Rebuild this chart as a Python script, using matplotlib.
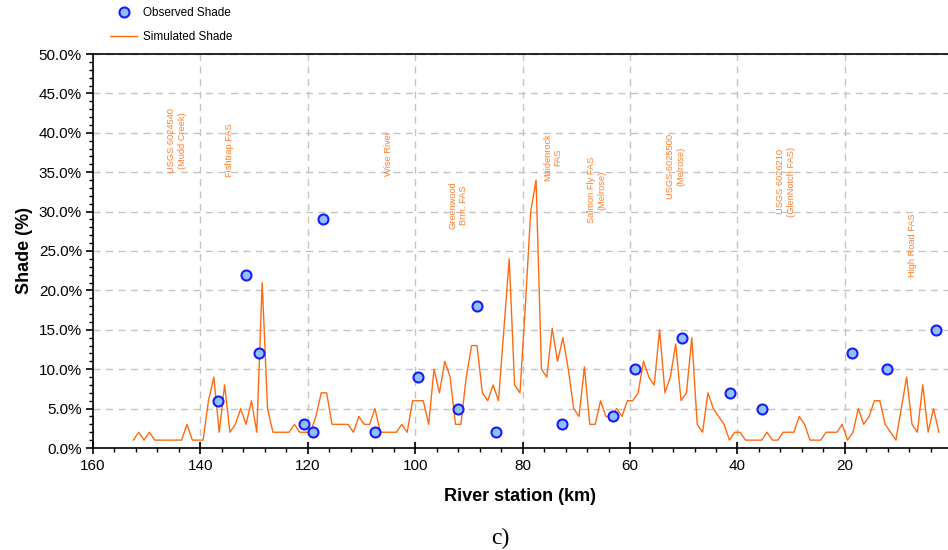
import matplotlib
matplotlib.use("Agg")
import matplotlib.pyplot as plt
from matplotlib.ticker import MultipleLocator, FuncFormatter
from matplotlib.lines import Line2D

# ---------------- data ----------------
sim_km = [152.5, 151.5, 150.5, 149.5, 148.5, 147.5, 146.5, 145.5, 144.5, 143.5,
          142.5, 141.5, 140.5, 139.5, 138.5, 137.5, 136.5, 135.5, 134.5, 133.5,
          132.5, 131.5, 130.5, 129.5, 128.5, 127.5, 126.5, 125.5, 124.5, 123.5,
          122.5, 121.5, 120.5, 119.5, 118.5, 117.5, 116.5, 115.5, 114.5, 113.5,
          112.5, 111.5, 110.5, 109.5, 108.5, 107.5, 106.5, 105.5, 104.5, 103.5,
          102.5, 101.5, 100.5, 99.5, 98.5, 97.5, 96.5, 95.5, 94.5, 93.5,
          92.5, 91.5, 90.5, 89.5, 88.5, 87.5, 86.5, 85.5, 84.5, 83.5,
          82.5, 81.5, 80.5, 79.5, 78.5, 77.5, 76.5, 75.5, 74.5, 73.5,
          72.5, 71.5, 70.5, 69.5, 68.5, 67.5, 66.5, 65.5, 64.5, 63.5,
          62.5, 61.5, 60.5, 59.5, 58.5, 57.5, 56.5, 55.5, 54.5, 53.5,
          52.5, 51.5, 50.5, 49.5, 48.5, 47.5, 46.5, 45.5, 44.5, 43.5,
          42.5, 41.5, 40.5, 39.5, 38.5, 37.5, 36.5, 35.5, 34.5, 33.5,
          32.5, 31.5, 30.5, 29.5, 28.5, 27.5, 26.5, 25.5, 24.5, 23.5,
          22.5, 21.5, 20.5, 19.5, 18.5, 17.5, 16.5, 15.5, 14.5, 13.5,
          12.5, 11.5, 10.5, 9.5, 8.5, 7.5, 6.5, 5.5, 4.5, 3.5, 2.5]
sim_shade = [1, 2, 1, 2, 1, 1, 1, 1, 1, 1,
             3, 1, 1, 1, 6, 9, 2, 8, 2, 3,
             5, 3, 6, 2, 21, 5, 2, 2, 2, 2,
             3, 2, 2, 2, 4, 7, 7, 3, 3, 3,
             3, 2, 4, 3, 3, 5, 2, 2, 2, 2,
             3, 2, 6, 6, 6, 3, 10, 7, 11, 9,
             3, 3, 9, 13, 13, 7, 6, 8, 6, 15,
             24, 8, 7, 18, 30, 34, 10, 9, 15.2, 11,
             14, 10, 5, 4, 10.3, 3, 3, 6, 4, 4,
             5, 4, 6, 6, 7, 11, 9, 8, 15, 7,
             9, 13.2, 6, 7, 14, 3, 2, 7, 5, 4,
             3, 1, 2, 2, 1, 1, 1, 1, 2, 1,
             1, 2, 2, 2, 4, 3, 1, 1, 1, 2,
             2, 2, 3, 1, 2, 5, 3, 4, 6, 6,
             3, 2, 1, 5, 9, 3, 2, 8, 2, 5, 2]

obs_km = [136.8, 131.5, 129.0, 120.7, 119.0, 117.1, 107.4, 99.4, 92.0, 88.5,
          85.0, 72.6, 63.1, 59.0, 50.4, 41.3, 35.5, 18.7, 12.2, 3.1]
obs_shade = [6, 22, 12, 3, 2, 29, 2, 9, 5, 18,
             2, 3, 4, 10, 14, 7, 5, 12, 10, 15]

site_labels = ["USGS 6024540\n(Mudd Creek)", "Fishtrap FAS", "Wise River",
               "Greenwood\nBrm. FAS", "Maidenrock\nFAS", "Salmon Fly FAS\n(Melrose)",
               "USGS 6025500\n(Melrose)", "USGS 6026210\n(GlenNotch FAS)", "High Road FAS"]
site_km = [144.4, 134.6, 105.0, 92.0, 74.4, 66.2, 51.5, 31.0, 7.4]
site_y = [39.0, 37.8, 37.4, 30.8, 36.9, 32.7, 35.7, 33.8, 25.8]

# ---------------- figure ----------------
plt.rcParams['font.family'] = ['Liberation Sans', 'DejaVu Sans']

fig = plt.figure(figsize=(9.48, 5.5), dpi=100)
ax = fig.add_axes([93 / 948, 102 / 550, 855 / 948, 394 / 550])

orange = '#FF6A10'
ax.plot(sim_km, sim_shade, color=orange, lw=1.0, zorder=3)
ax.plot(obs_km, obs_shade, linestyle='none', marker='o', markersize=7.2,
        markerfacecolor='#8FC3FF', markeredgecolor='#1A1AFF', markeredgewidth=1.5, zorder=4)

for lab, xk, yk in zip(site_labels, site_km, site_y):
    ax.text(xk, yk, lab, rotation=90, ha='center', va='center', multialignment='center',
            fontsize=6.7, color='#FF7F2A', linespacing=1.25, zorder=2)

ax.set_xlim(160, 0.8)
ax.set_ylim(0, 50)

ax.xaxis.set_major_locator(MultipleLocator(20))
ax.xaxis.set_minor_locator(MultipleLocator(4))
ax.yaxis.set_major_locator(MultipleLocator(5))
ax.yaxis.set_minor_locator(MultipleLocator(1))
ax.yaxis.set_major_formatter(FuncFormatter(lambda v, p: f"{v:.1f}%"))
ax.xaxis.set_major_formatter(FuncFormatter(lambda v, p: f"{v:.0f}"))

ax.tick_params(axis='x', which='major', direction='inout', length=8, width=1.2,
               labelsize=11, pad=4)
ax.tick_params(axis='x', which='minor', direction='out', length=3, width=1)
ax.tick_params(axis='y', which='major', direction='out', length=5, width=1.2,
               labelsize=11, pad=3)
ax.tick_params(axis='y', which='minor', direction='out', length=3, width=1)

ax.grid(True, which='major', color='#C4C4C4', linestyle=(0, (5, 4)), lw=1.0, zorder=1)
ax.set_axisbelow(True)

for s in ['left', 'bottom', 'top']:
    ax.spines[s].set_color('black')
    ax.spines[s].set_linewidth(1.2)
ax.spines['right'].set_visible(False)

ax.set_xlabel('River station (km)', fontsize=13, fontweight='bold', labelpad=11)
ax.set_ylabel('Shade (%)', fontsize=13, fontweight='bold', labelpad=4)

handles = [Line2D([], [], linestyle='none', marker='o', markersize=7.2,
                  markerfacecolor='#8FC3FF', markeredgecolor='#1A1AFF', markeredgewidth=1.5),
           Line2D([], [], color=orange, lw=1.0)]
fig.legend(handles, ['Observed Shade', 'Simulated Shade'], loc='upper left',
           bbox_to_anchor=(110 / 948, 1 - 7 / 550), frameon=False, fontsize=8.5,
           borderpad=0, borderaxespad=0, handlelength=2.3, handletextpad=0.5,
           labelspacing=1.0)

fig.text(500 / 948, 1 - 538 / 550, 'c)', ha='center', va='center', fontsize=17,
         family=['Liberation Serif', 'DejaVu Serif'])

fig.savefig('out.png', dpi=100)
